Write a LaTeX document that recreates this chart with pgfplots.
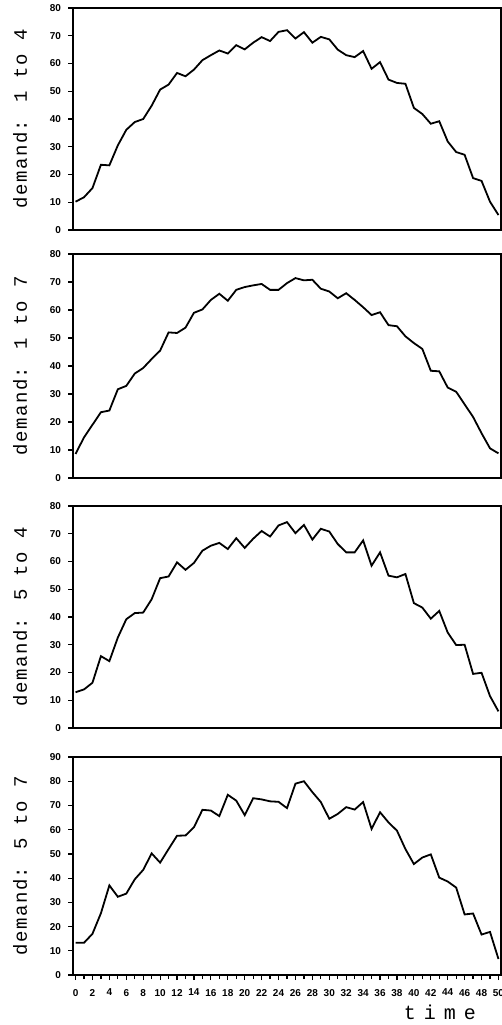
\documentclass[border=0pt]{standalone}
\usepackage{fontspec}
\setmainfont{Liberation Sans}
\newfontfamily\labfont[LetterSpace=8]{Liberation Mono}
\newfontfamily\timefont[LetterSpace=40]{Liberation Mono}
\usepackage{pgfplots}
\usepackage{pgfplotstable}
\pgfplotsset{compat=1.18}

% weekly demand, four cases
\pgfplotstableread{
t  a    b    c    d
0  10.2 8.6  12.9 13.3
1  11.8 14.5 13.9 13.3
2  15.1 19.0 16.3 17.0
3  23.5 23.5 25.9 25.5
4  23.3 24.1 24.1 37.0
5  30.5 31.7 32.6 32.3
6  36.1 32.9 39.2 33.6
7  38.9 37.3 41.4 39.5
8  40.0 39.3 41.6 43.4
9  44.8 42.5 46.4 50.2
10 50.6 45.5 54.0 46.4
11 52.4 52.0 54.6 52.0
12 56.6 51.8 59.7 57.5
13 55.4 53.7 57.0 57.6
14 57.8 59.0 59.5 61.0
15 61.2 60.2 63.9 68.2
16 63.0 63.6 65.7 67.9
17 64.7 65.8 66.7 65.6
18 63.6 63.3 64.5 74.4
19 66.6 67.2 68.4 72.0
20 65.1 68.2 64.9 66.0
21 67.5 68.8 68.2 73.0
22 69.5 69.3 71.0 72.5
23 68.1 67.2 69.0 71.7
24 71.4 67.2 73.0 71.5
25 72.0 69.6 74.2 68.9
26 69.0 71.4 70.2 79.0
27 71.3 70.6 73.2 80.0
28 67.5 70.8 67.9 75.5
29 69.6 67.6 71.8 71.4
30 68.7 66.6 70.8 64.5
31 65.0 64.2 66.3 66.5
32 63.0 66.0 63.3 69.3
33 62.3 63.6 63.3 68.3
34 64.5 61.0 67.6 71.4
35 58.1 58.2 58.5 60.3
36 60.5 59.2 63.3 67.2
37 54.2 54.6 54.9 63.0
38 53.0 54.2 54.3 59.6
39 52.7 50.6 55.5 52.0
40 44.0 48.2 45.0 45.8
41 41.8 46.1 43.4 48.5
42 38.3 38.3 39.4 49.8
43 39.2 38.1 42.2 40.2
44 31.9 32.3 34.4 38.6
45 28.1 30.8 29.9 36.1
46 27.1 26.3 30.0 25.0
47 18.7 21.8 19.5 25.4
48 17.7 16.0 19.9 16.7
49 10.2 10.6 11.5 17.8
50 5.4  8.8  6.0  6.6
}\demand

\pgfplotsset{
  panel/.style={
    scale only axis, width=214pt,
    xmin=-0.3, xmax=50.3, ymin=0,
    axis line style={line width=1pt},
    ytick pos=left, xtick pos=bottom,
    tick align=outside, major tick length=2.5pt, minor tick length=2pt,
    tick style={line width=0.6pt, black},
    /pgf/number format/assume math mode=true,
    ticklabel style={font=\fontsize{5}{5}\selectfont\bfseries},
    xtick=\empty,
    every axis y label/.style={at={(rel axis cs:0,0.5)}, anchor=center,
      rotate=90, yshift=26.5pt, font=\labfont\fontsize{9.5}{10}\selectfont},
  },
  curve/.style={black, line width=0.9pt, mark=none},
}

\begin{document}
\begin{tikzpicture}
\path[use as bounding box] (0,0) rectangle (251pt,-512.5pt);

\begin{axis}[panel, at={(36.5pt,-4pt)}, anchor=north west, height=111pt,
  ymax=80, ytick={0,10,...,80}, ylabel={demand: 1 to 4}]
\addplot[curve] table[x=t, y=a] {\demand};
\end{axis}

\begin{axis}[panel, at={(36.5pt,-127pt)}, anchor=north west, height=112pt,
  ymax=80, ytick={0,10,...,80}, ylabel={demand: 1 to 7}]
\addplot[curve] table[x=t, y=b] {\demand};
\end{axis}

\begin{axis}[panel, at={(36.5pt,-253pt)}, anchor=north west, height=111pt,
  ymax=80, ytick={0,10,...,80}, ylabel={demand: 5 to 4}]
\addplot[curve] table[x=t, y=c] {\demand};
\end{axis}

\begin{axis}[panel, at={(36.5pt,-378.5pt)}, anchor=north west, height=109pt,
  ymax=90, ytick={0,10,...,90}, ylabel={demand: 5 to 7},
  xtick={0,2,...,50}, minor xtick={1,3,...,49},
  xticklabel style={yshift=-1pt},
  xlabel={time},
  xlabel style={at={(rel axis cs:0.857,0)}, anchor=center, yshift=-18.5pt,
    font=\timefont\fontsize{10}{10}\selectfont}]
\addplot[curve] table[x=t, y=d] {\demand};
\end{axis}
\end{tikzpicture}
\end{document}
